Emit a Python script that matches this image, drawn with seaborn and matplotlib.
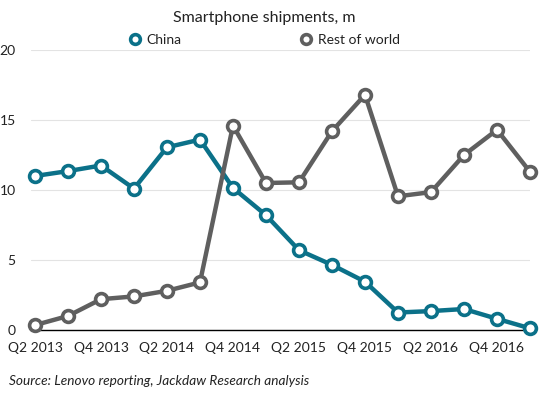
import matplotlib
matplotlib.use("Agg")
import matplotlib.pyplot as plt
import seaborn as sns
import pandas as pd
from matplotlib.lines import Line2D

quarters = ["Q2 2013", "Q3 2013", "Q4 2013", "Q1 2014", "Q2 2014", "Q3 2014",
            "Q4 2014", "Q1 2015", "Q2 2015", "Q3 2015", "Q4 2015", "Q1 2016",
            "Q2 2016", "Q3 2016", "Q4 2016", "Q1 2017"]
china = [11.0, 11.35, 11.75, 10.1, 13.05, 13.6, 10.15, 8.2, 5.7, 4.65, 3.45, 1.25,
         1.35, 1.5, 0.8, 0.12]
rest_of_world = [0.35, 1.0, 2.2, 2.4, 2.8, 3.4, 14.6, 10.5, 10.55, 14.2, 16.8, 9.55,
                 9.85, 12.5, 14.3, 11.3]
series_names = ["China", "Rest of world"]
colors = ["#0b7189", "#5f5f5f"]

sns.set_style("white")
plt.rcParams['font.family'] = ['Lato', 'DejaVu Sans']

df = pd.DataFrame({
    "quarter": quarters * 2,
    "x": list(range(len(quarters))) * 2,
    "value": china + rest_of_world,
    "series": [series_names[0]] * len(quarters) + [series_names[1]] * len(quarters),
})

fig = plt.figure(figsize=(5.6, 3.98), dpi=100)
ax = fig.add_axes([31 / 560, 68 / 398, 499 / 560, 280 / 398])

sns.lineplot(data=df, x="x", y="value", hue="series", palette=colors,
             hue_order=series_names, linewidth=3.2, marker="o", markersize=8.5,
             markerfacecolor="white", markeredgewidth=2.6, ax=ax, legend=False,
             clip_on=False, zorder=3)
for line, c in zip(ax.get_lines(), colors):
    line.set_markeredgecolor(c)

ax.set_xlim(-0.12, 15.0)
ax.set_ylim(0, 20)
ax.set_yticks([0, 5, 10, 15, 20])
ax.set_xticks(range(0, len(quarters), 2))
ax.set_xticklabels(quarters[::2])
ax.set_xlabel("")
ax.set_ylabel("")
ax.grid(axis="y", color="#e3e3e3", linewidth=0.8)
ax.grid(axis="x", visible=False)
for s in ["top", "right", "left"]:
    ax.spines[s].set_visible(False)
ax.spines["bottom"].set_color("black")
ax.spines["bottom"].set_linewidth(1.0)
ax.spines["bottom"].set_zorder(2)
ax.tick_params(axis="both", length=0, labelsize=10, colors="#222222")
ax.tick_params(axis="y", pad=11)
ax.tick_params(axis="x", pad=9)

fig.text(264 / 560, 1 - 18 / 398, "Smartphone shipments, m", ha="center", va="center",
         fontsize=11.5, color="#222222")

handles = [Line2D([], [], color=c, marker="o", markersize=7, markerfacecolor="white",
                  markeredgewidth=2.6, linestyle="none") for c in colors]
fig.legend(handles, series_names, loc="center", bbox_to_anchor=(264 / 560, 1 - 40 / 398),
           ncol=2, frameon=False, fontsize=10, handletextpad=0.3, columnspacing=8.5,
           handlelength=1.0, labelcolor="#222222")

fig.text(9 / 560, 1 - 381 / 398, "Source: Lenovo reporting, Jackdaw Research analysis",
         ha="left", va="center", fontsize=9.8, style="italic", color="#222222")

fig.savefig("out.png", dpi=100)
